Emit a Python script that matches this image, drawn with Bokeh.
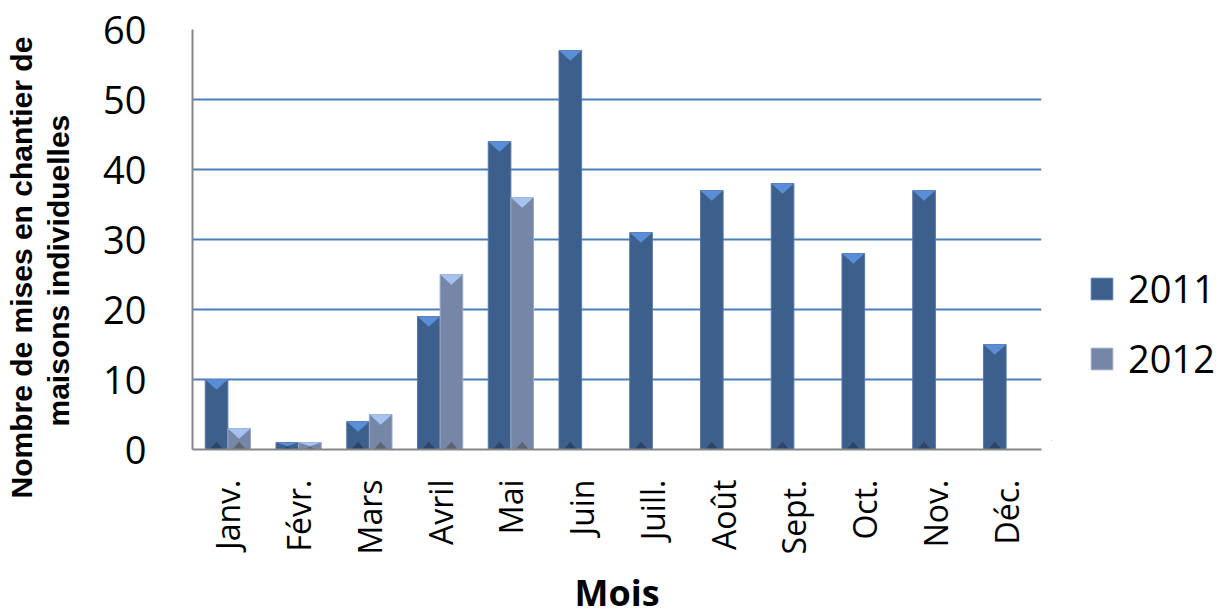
import math
import numpy as np
from bokeh.plotting import figure
from bokeh.layouts import row
from bokeh.models import Range1d, FixedTicker, Legend, LegendItem, ColumnDataSource, Title
from bokeh.embed import file_html
from bokeh.resources import INLINE

# ---- data ----
months = ["Janv.", "Févr.", "Mars", "Avril", "Mai", "Juin",
          "Juill.", "Août", "Sept.", "Oct.", "Nov.", "Déc."]
series_names = ["2011", "2012"]
values_2011 = [10, 1, 4, 19, 44, 57, 31, 37, 38, 28, 37, 15]
values_2012 = [3, 1, 5, 25, 36]          # Janv. .. Mai only
y_ticks = [0, 10, 20, 30, 40, 50, 60]
x_title = "Mois"
y_title_lines = ["Nombre de mises en chantier de", "maisons individuelles"]

# ---- styles ----
styles = {
    "2011": dict(main="#3D5F8C", edge="#5878A8", top="#5A8ED6", bottom="#2C4468", dx=-0.16),
    "2012": dict(main="#7686A6", edge="#9AA8C4", top="#A6C2F0", bottom="#5C6474", dx=0.16),
}
bar_w = 0.32
H = 616
TOP, FH = 29, 420
BOTTOM = H - TOP - FH

p = figure(frame_width=849, frame_height=FH, output_backend="svg", toolbar_location=None,
           x_range=Range1d(-0.5, len(months) - 0.5), y_range=Range1d(0, 60),
           min_border_left=112, min_border_right=10, min_border_top=TOP,
           min_border_bottom=BOTTOM)
p.outline_line_color = None
p.background_fill_color = "white"
p.border_fill_color = "white"

for name, vals in zip(series_names, [values_2011, values_2012]):
    st = styles[name]
    idx = np.arange(len(vals))
    xs = idx + st["dx"]
    top = np.array(vals, dtype=float)
    src = ColumnDataSource(dict(x=xs, top=top))
    p.vbar(x="x", top="top", width=bar_w, source=src,
           fill_color=st["main"], line_color=st["edge"], line_width=1)
    # bevel triangles (pyramid look)
    h_top = np.minimum(1.45, top * 0.55)
    tx = [[x - bar_w / 2, x + bar_w / 2, x] for x in xs]
    ty = [[t, t, t - h] for t, h in zip(top, h_top)]
    p.patches(tx, ty, fill_color=st["top"], line_color=None)
    h_bot = np.minimum(1.1, top * 0.4)
    bx = [[x - bar_w * 0.3, x + bar_w * 0.3, x] for x in xs]
    by = [[0, 0, h] for h in h_bot]
    p.patches(bx, by, fill_color=st["bottom"], line_color=None)

# ---- axes ----
p.yaxis.ticker = FixedTicker(ticks=y_ticks)
p.ygrid.ticker = FixedTicker(ticks=y_ticks)
p.ygrid.grid_line_color = "#4A7EBB"
p.ygrid.grid_line_width = 2
p.xgrid.grid_line_color = None

p.xaxis.ticker = FixedTicker(ticks=list(range(len(months))))
p.xaxis.major_label_overrides = {i: m for i, m in enumerate(months)}
p.xaxis.major_label_orientation = math.pi / 2

for ax in (p.xaxis, p.yaxis):
    ax.axis_line_color = "#868686"
    ax.axis_line_width = 2
    ax.major_tick_line_color = None
    ax.minor_tick_line_color = None
    ax.major_label_text_color = "black"
    ax.major_label_text_font = "Open Sans"

p.yaxis.major_label_text_font_size = "38px"
p.yaxis.major_label_standoff = 40
p.xaxis.major_label_text_font_size = "32px"
p.xaxis.major_label_standoff = 24

xt = Title(text=x_title, align="center", text_font="Open Sans",
           text_font_style="bold", text_font_size="36px", text_color="black",
           standoff=17)
p.add_layout(xt, "below")

# ---- y-axis title (narrow figure on the left) ----
tf = figure(width=80, height=H, output_backend="svg", toolbar_location=None,
            x_axis_location=None, y_axis_location=None,
            x_range=Range1d(0, 1), y_range=Range1d(0, 1),
            min_border_left=70, min_border_right=0, min_border_top=TOP,
            min_border_bottom=BOTTOM)
tf.outline_line_color = None
tf.xgrid.grid_line_color = None
tf.ygrid.grid_line_color = None
# closest to the axis first
t2 = Title(text=y_title_lines[1], align="left", offset=14, standoff=0,
           text_font="Liberation Sans", text_font_style="bold",
           text_font_size="30px", text_color="black")
tf.add_layout(t2, "left")
t1 = Title(text=y_title_lines[0], align="left", offset=-58, standoff=4,
           text_font="Liberation Sans", text_font_style="bold",
           text_font_size="30px", text_color="black")
tf.add_layout(t1, "left")

# ---- legend (separate narrow figure to the right) ----
lg = figure(width=167, height=H, output_backend="svg", toolbar_location=None,
            x_axis_location=None, y_axis_location=None,
            x_range=Range1d(0, 1), y_range=Range1d(0, 1),
            min_border_left=0, min_border_right=0, min_border_top=TOP,
            min_border_bottom=BOTTOM)
lg.outline_line_color = None
lg.xgrid.grid_line_color = None
lg.ygrid.grid_line_color = None
items = []
for name in series_names:
    st = styles[name]
    r = lg.vbar(x=[-5], top=[0], width=0.1, fill_color=st["main"], line_color=st["edge"])
    items.append(LegendItem(label=name, renderers=[r]))
legend = Legend(items=items, location=(37, 56), orientation="vertical",
                glyph_width=27, glyph_height=27, label_height=27,
                label_standoff=13, spacing=18, padding=0, margin=0,
                label_text_font="Open Sans", label_text_font_size="38px",
                label_text_color="black", border_line_color=None,
                background_fill_alpha=0)
lg.add_layout(legend, "center")

layout = row(tf, p, lg)
open("out.html", "w").write(file_html(layout, INLINE))
